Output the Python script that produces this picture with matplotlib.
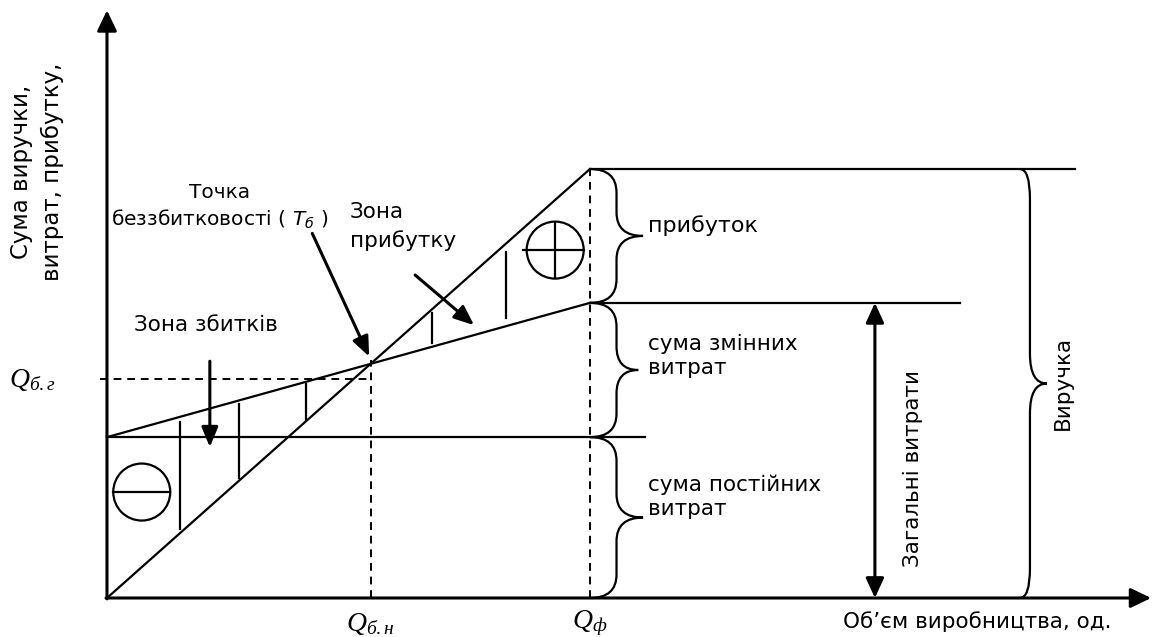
import numpy as np
import matplotlib.pyplot as plt
from matplotlib.path import Path
from matplotlib.patches import PathPatch, Ellipse

plt.rcParams['font.family'] = ['DejaVu Sans']
plt.rcParams['mathtext.fontset'] = 'custom'
plt.rcParams['mathtext.it'] = 'Liberation Serif:italic'
plt.rcParams['mathtext.rm'] = 'Liberation Serif'

# break-even model (arbitrary units)
fixed_cost = 3.75
unit_var_cost = 0.313
price = 1.0
q_actual = 10.0
q_bg_level = 5.1            # where the dashed "Q б.г" guide is drawn
loss_hatch_x = [1.52, 2.73, 4.12]
profit_hatch_x = [6.73, 8.26]

q_be = fixed_cost / (price - unit_var_cost)
rev_be = price * q_be
revenue_max = price * q_actual
total_max = fixed_cost + unit_var_cost * q_actual

fig = plt.figure(figsize=(11.56, 6.37), dpi=100)
ax = fig.add_axes([0, 0, 1, 1])
ax.set_xlim(-2.215, 21.72)
ax.set_ylim(-0.909, 13.94)
ax.axis('off')

lw = 1.6
k = 'black'

# axes with arrows
big = dict(arrowstyle='-|>,head_width=0.6,head_length=1.25', lw=2.2, color=k,
           shrinkA=0, shrinkB=0)
ax.annotate('', xy=(0, 13.7), xytext=(0, -0.02), arrowprops=big, annotation_clip=False)
ax.annotate('', xy=(21.62, 0), xytext=(-0.02, 0), arrowprops=big, annotation_clip=False)

# revenue, total cost, fixed cost
q = np.array([0, q_actual])
ax.plot(q, price * q, color=k, lw=lw)
ax.plot(q, fixed_cost + unit_var_cost * q, color=k, lw=lw)
ax.plot([0, 11.14], [fixed_cost, fixed_cost], color=k, lw=lw)
ax.plot([q_actual, 20.04], [revenue_max, revenue_max], color=k, lw=lw)
ax.plot([q_actual, 17.66], [total_max, total_max], color=k, lw=lw)

# dashed guides
dash = (0, (4, 3))
ax.plot([q_be, q_be], [0, rev_be + 0.1], color=k, lw=1.4, ls=dash)
ax.plot([-0.15, q_be], [q_bg_level, q_bg_level], color=k, lw=1.4, ls=dash)
ax.plot([q_actual, q_actual], [0, revenue_max], color=k, lw=1.4, ls=dash)

# hatch lines in the zones
for xh in loss_hatch_x:
    top = fixed_cost + unit_var_cost * xh
    bot = price * xh
    g = 0.12 * (top - bot)
    ax.plot([xh, xh], [bot + g * 0.3, top - g * 0.4], color=k, lw=lw)
for xh in profit_hatch_x:
    top = price * xh
    bot = fixed_cost + unit_var_cost * xh
    g = 0.1 * (top - bot)
    ax.plot([xh, xh], [bot + g, top - g], color=k, lw=lw)

# minus / plus circles
ax.add_patch(Ellipse((0.72, 2.47), 57 / 48.3, 57 / 42.9, fill=False, lw=lw, ec=k))
ax.plot([0.13, 1.31], [2.47, 2.47], color=k, lw=lw)
ax.add_patch(Ellipse((9.28, 8.11), 57 / 48.3, 57 / 42.9, fill=False, lw=lw, ec=k))
ax.plot([8.61, 9.87], [8.11, 8.11], color=k, lw=lw)
ax.plot([9.28, 9.28], [7.46, 8.74], color=k, lw=lw)

# pointer arrows
arr = dict(arrowstyle='-|>,head_width=0.5,head_length=1.2', lw=2.2, color=k,
           shrinkA=0, shrinkB=0)
ax.annotate('', xy=(2.13, 3.52), xytext=(2.13, 5.52), arrowprops=arr)
ax.annotate('', xy=(q_be - 0.03, rev_be + 0.17), xytext=(4.25, 8.5), arrowprops=arr)
ax.annotate('', xy=(7.6, 6.36), xytext=(6.38, 7.53), arrowprops=arr)

# total cost double arrow
ax.annotate('', xy=(15.9, total_max), xytext=(15.9, 0),
            arrowprops=dict(arrowstyle='<|-|>,head_width=0.55,head_length=1.2', lw=2.2,
                            color=k, shrinkA=0, shrinkB=0))


def brace(x0, y_lo, y_hi, w1, w2, ry):
    ym = (y_lo + y_hi) / 2
    verts = [(x0, y_hi), (x0 + w1, y_hi), (x0 + w1, y_hi - ry),
             (x0 + w1, ym + ry), (x0 + w1, ym), (x0 + w2, ym),
             (x0 + w1, ym), (x0 + w1, ym - ry),
             (x0 + w1, y_lo + ry), (x0 + w1, y_lo), (x0, y_lo)]
    codes = [Path.MOVETO, Path.CURVE3, Path.CURVE3,
             Path.LINETO, Path.CURVE3, Path.CURVE3,
             Path.CURVE3, Path.CURVE3,
             Path.LINETO, Path.CURVE3, Path.CURVE3]
    ax.add_patch(PathPatch(Path(verts, codes), fill=False, lw=lw, ec=k))


brace(q_actual, total_max, revenue_max, 0.55, 1.1, 0.55)
brace(q_actual, fixed_cost, total_max, 0.55, 1.0, 0.55)
brace(q_actual, 0, fixed_cost, 0.55, 1.1, 0.55)
brace(18.9, 0, revenue_max, 0.21, 0.56, 0.7)

fs = 15.5
ax.text(-1.45, 9.93, 'Сума виручки,\nвитрат, прибутку,', rotation=90,
        ha='center', va='center', fontsize=16.5, linespacing=1.4)
ax.text(2.33, 9.11, 'Точка\nбеззбитковості ( $T_б$ )', ha='center', va='center',
        fontsize=14.5, linespacing=1.3, math_fontfamily='dejavusans')
ax.text(5.03, 8.66, 'Зона\nприбутку', ha='left', va='center', fontsize=fs, linespacing=1.45)
ax.text(0.55, 6.36, 'Зона збитків', ha='left', va='center', fontsize=fs)
ax.text(11.2, 8.67, 'прибуток', ha='left', va='center', fontsize=16)
ax.text(11.2, 5.65, 'сума змінних\nвитрат', ha='left', va='center', fontsize=fs, linespacing=1.25)
ax.text(11.2, 2.36, 'сума постійних\nвитрат', ha='left', va='center', fontsize=fs, linespacing=1.25)
ax.text(16.69, 3.03, 'Загальні витрати', rotation=90, ha='center', va='center', fontsize=fs)
ax.text(19.79, 5.01, 'Виручка', rotation=90, ha='center', va='center', fontsize=fs)
ax.text(15.24, -0.56, 'Об’єм виробництва, од.', ha='left', va='center', fontsize=fs)

ax.text(-1.55, q_bg_level, '$Q_{б.г}$', ha='center', va='center', fontsize=20)
ax.text(q_be, -0.58, '$Q_{б.н}$', ha='center', va='center', fontsize=20)
ax.text(q_actual, -0.58, '$Q_{ф}$', ha='center', va='center', fontsize=20)

fig.savefig('out.png', dpi=100)
